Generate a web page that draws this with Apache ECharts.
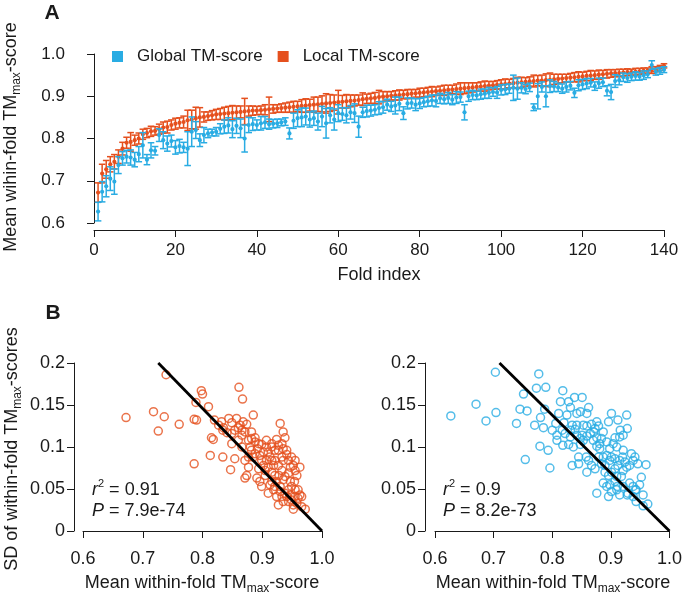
<!DOCTYPE html>
<html><head><meta charset="utf-8">
<script src="https://cdn.jsdelivr.net/npm/echarts@6/dist/echarts.min.js"></script>
<style>html,body{margin:0;padding:0;background:#fff}#c{width:685px;height:593px}</style>
</head><body><div id="c"></div>
<script>
// ---------- Panel A data (fold index 1..140) ----------
const foldIndex = Array.from({length:140}, (_, i) => i + 1);
const localMean = [
0.672,0.717,0.727,0.739,0.745,0.757,0.776,0.790,0.792,0.796,
0.800,0.810,0.813,0.817,0.818,0.822,0.826,0.827,0.832,0.835,
0.837,0.839,0.843,0.845,0.848,0.850,0.851,0.853,0.855,0.857,
0.858,0.859,0.860,0.861,0.862,0.863,0.864,0.865,0.866,0.866,
0.867,0.868,0.869,0.870,0.871,0.872,0.873,0.874,0.875,0.876,
0.877,0.878,0.879,0.880,0.881,0.882,0.883,0.884,0.885,0.886,
0.887,0.888,0.889,0.890,0.891,0.893,0.894,0.895,0.896,0.898,
0.899,0.900,0.901,0.902,0.903,0.904,0.905,0.906,0.907,0.908,
0.909,0.910,0.911,0.912,0.913,0.914,0.915,0.916,0.917,0.918,
0.919,0.920,0.921,0.922,0.923,0.924,0.925,0.926,0.927,0.928,
0.929,0.930,0.931,0.932,0.933,0.934,0.935,0.936,0.937,0.937,
0.938,0.939,0.940,0.941,0.942,0.943,0.944,0.945,0.946,0.947,
0.948,0.949,0.950,0.951,0.952,0.953,0.954,0.955,0.955,0.956,
0.957,0.957,0.958,0.959,0.960,0.961,0.962,0.964,0.967,0.972];
const localErr = [
.023,.022,.021,.018,.017,.016,.015,.013,.022,.012,
.013,.012,.011,.012,.010,.012,.013,.014,.012,.013,
.012,.014,.024,.022,.026,.023,.012,.010,.011,.012,
.013,.015,.016,.017,.015,.014,.031,.012,.011,.010,
.010,.012,.029,.010,.009,.010,.011,.012,.013,.012,
.015,.016,.014,.018,.017,.019,.023,.020,.018,.028,
.015,.016,.014,.013,.012,.015,.011,.012,.013,.016,
.012,.011,.010,.011,.012,.010,.011,.010,.009,.011,
.010,.011,.012,.010,.011,.012,.011,.010,.012,.014,
.013,.012,.011,.010,.011,.012,.010,.009,.010,.011,
.012,.010,.011,.013,.012,.010,.011,.014,.012,.013,
.015,.016,.012,.011,.010,.009,.010,.011,.012,.010,
.011,.012,.010,.011,.009,.010,.009,.008,.009,.008,
.008,.007,.008,.007,.007,.006,.008,.006,.006,.005];
const globalMean = [
0.627,0.674,0.687,0.705,0.698,0.737,0.753,0.757,0.755,0.750,
0.763,0.784,0.750,0.772,0.771,0.808,0.796,0.788,0.794,0.779,
0.782,0.779,0.776,0.816,0.820,0.796,0.808,0.812,0.814,0.816,
0.823,0.828,0.831,0.822,0.830,0.824,0.800,0.832,0.834,0.832,
0.836,0.838,0.834,0.835,0.836,0.838,0.840,0.812,0.842,0.848,
0.850,0.852,0.845,0.848,0.840,0.852,0.836,0.855,0.845,0.860,
0.858,0.855,0.862,0.860,0.828,0.862,0.865,0.866,0.868,0.872,
0.874,0.880,0.876,0.878,0.882,0.860,0.883,0.884,0.880,0.883,
0.886,0.888,0.890,0.889,0.895,0.893,0.896,0.892,0.897,0.898,
0.862,0.900,0.903,0.902,0.905,0.906,0.908,0.910,0.909,0.915,
0.916,0.918,0.920,0.918,0.920,0.917,0.921,0.874,0.900,0.922,
0.900,0.924,0.923,0.921,0.918,0.922,0.925,0.908,0.926,0.928,
0.930,0.932,0.924,0.931,0.933,0.913,0.910,0.936,0.938,0.945,
0.943,0.946,0.948,0.947,0.950,0.952,0.974,0.958,0.960,0.963];
const globalErr = [
.022,.024,.025,.028,.030,.020,.016,.015,.018,.017,
.018,.030,.012,.018,.010,.015,.020,.018,.014,.016,
.016,.012,.040,.035,.020,.015,.018,.010,.008,.010,
.012,.016,.018,.020,.018,.022,.032,.018,.015,.012,
.016,.014,.012,.010,.010,.008,.009,.013,.018,.020,
.022,.020,.018,.017,.020,.024,.035,.018,.025,.020,
.015,.018,.016,.022,.025,.012,.014,.013,.012,.015,
.014,.013,.012,.020,.016,.015,.013,.012,.014,.012,
.011,.012,.013,.014,.012,.011,.013,.012,.014,.012,
.018,.012,.011,.010,.012,.011,.013,.010,.014,.012,
.012,.011,.030,.025,.012,.011,.010,.008,.030,.012,
.025,.015,.012,.010,.011,.012,.010,.011,.013,.012,
.012,.010,.010,.012,.010,.012,.018,.015,.011,.010,
.010,.009,.010,.009,.010,.008,.010,.008,.008,.007];
const xTicksA = [0,20,40,60,80,100,120,140];
const yTicksA = [0.6,0.7,0.8,0.9,1.0];

// ---------- Panel B data: [mean, SD] per fold ----------
const localScatter = [
[0.672,0.135],[0.718,0.142],[0.736,0.136],[0.726,0.119],[0.761,0.127],[0.739,0.186],[0.798,0.167],[0.800,0.163],
[0.789,0.153],[0.810,0.148],[0.786,0.133],[0.790,0.132],[0.813,0.090],[0.786,0.080],[0.834,0.088],[0.847,0.073],
[0.861,0.171],[0.867,0.157],[0.815,0.111],[0.818,0.109],[0.820,0.132],[0.827,0.126],[0.834,0.120],[0.832,0.130],
[0.844,0.134],[0.849,0.129],[0.857,0.134],[0.860,0.123],[0.863,0.126],[0.868,0.130],[0.874,0.127],[0.885,0.138],
[0.854,0.120],[0.866,0.114],[0.871,0.118],[0.877,0.108],[0.882,0.110],[0.888,0.106],[0.894,0.104],[0.899,0.103],
[0.849,0.104],[0.854,0.086],[0.866,0.100],[0.871,0.084],[0.877,0.076],[0.874,0.066],[0.871,0.063],[0.882,0.096],
[0.888,0.092],[0.896,0.090],[0.899,0.084],[0.902,0.078],[0.907,0.100],[0.910,0.094],[0.913,0.088],[0.916,0.100],
[0.921,0.096],[0.924,0.109],[0.927,0.102],[0.930,0.128],[0.935,0.118],[0.938,0.111],[0.935,0.098],[0.933,0.088],
[0.935,0.084],[0.941,0.096],[0.905,0.072],[0.910,0.076],[0.916,0.070],[0.921,0.066],[0.924,0.059],[0.913,0.055],
[0.910,0.045],[0.919,0.049],[0.924,0.041],[0.927,0.031],[0.930,0.053],[0.935,0.061],[0.938,0.065],[0.944,0.069],
[0.947,0.076],[0.952,0.078],[0.955,0.072],[0.958,0.066],[0.954,0.059],[0.949,0.053],[0.944,0.049],[0.941,0.041],
[0.935,0.035],[0.938,0.045],[0.947,0.043],[0.949,0.037],[0.952,0.031],[0.955,0.041],[0.960,0.039],[0.963,0.043],
[0.966,0.041],[0.958,0.033],[0.952,0.026],[0.966,0.029],[0.972,0.026],[0.891,0.063],[0.894,0.074],[0.885,0.088],
[0.877,0.088],[0.896,0.059],[0.899,0.053],[0.905,0.066],[0.916,0.059],[0.921,0.053],[0.930,0.047],[0.933,0.041],
[0.944,0.035],[0.955,0.049],[0.963,0.076],[0.947,0.059],[0.960,0.049],[0.927,0.078],[0.921,0.084],[0.919,0.078],
[0.944,0.084],[0.955,0.084],[0.933,0.072],[0.902,0.094],[0.892,0.098],[0.880,0.100],[0.860,0.108],[0.866,0.120],
[0.841,0.117],[0.835,0.123],[0.849,0.116],[0.882,0.118],[0.888,0.111],[0.907,0.108],[0.916,0.104],[0.927,0.096],
[0.933,0.104],[0.941,0.091],[0.949,0.088],[0.928,0.066],[0.916,0.084],[0.907,0.084]];
const globalScatter = [
[0.627,0.137],[0.670,0.151],[0.687,0.131],[0.704,0.141],[0.703,0.189],[0.777,0.187],[0.751,0.163],[0.773,0.170],
[0.789,0.171],[0.745,0.145],[0.757,0.143],[0.739,0.128],[0.770,0.126],[0.785,0.123],[0.780,0.135],[0.787,0.145],
[0.779,0.101],[0.793,0.096],[0.754,0.085],[0.796,0.075],[0.818,0.167],[0.814,0.154],[0.828,0.154],[0.838,0.159],
[0.851,0.159],[0.831,0.147],[0.842,0.140],[0.848,0.142],[0.859,0.140],[0.862,0.147],[0.820,0.129],[0.825,0.138],
[0.834,0.126],[0.839,0.121],[0.853,0.126],[0.859,0.125],[0.867,0.127],[0.873,0.122],[0.879,0.125],[0.811,0.140],
[0.808,0.114],[0.817,0.120],[0.831,0.112],[0.842,0.114],[0.851,0.114],[0.859,0.113],[0.865,0.116],[0.871,0.118],
[0.876,0.111],[0.884,0.110],[0.893,0.106],[0.818,0.102],[0.828,0.103],[0.836,0.100],[0.848,0.103],[0.845,0.088],
[0.834,0.078],[0.845,0.080],[0.858,0.088],[0.862,0.084],[0.859,0.070],[0.867,0.078],[0.876,0.101],[0.881,0.098],
[0.887,0.088],[0.893,0.090],[0.898,0.084],[0.901,0.140],[0.896,0.130],[0.912,0.132],[0.916,0.120],[0.921,0.114],
[0.927,0.138],[0.928,0.122],[0.915,0.112],[0.907,0.111],[0.910,0.100],[0.921,0.096],[0.901,0.088],[0.907,0.086],
[0.915,0.084],[0.920,0.088],[0.924,0.082],[0.935,0.092],[0.941,0.088],[0.946,0.080],[0.960,0.079],[0.912,0.078],
[0.907,0.074],[0.901,0.070],[0.890,0.070],[0.896,0.066],[0.910,0.065],[0.918,0.065],[0.887,0.057],[0.893,0.053],
[0.898,0.055],[0.907,0.059],[0.911,0.053],[0.921,0.053],[0.932,0.057],[0.938,0.053],[0.943,0.049],[0.952,0.064],
[0.949,0.055],[0.955,0.043],[0.942,0.049],[0.929,0.045],[0.938,0.041],[0.943,0.035],[0.928,0.043],[0.915,0.043],
[0.910,0.049],[0.901,0.047],[0.896,0.041],[0.876,0.045],[0.921,0.072],[0.927,0.076],[0.932,0.078],[0.938,0.084],
[0.873,0.074],[0.879,0.088],[0.884,0.080],[0.890,0.078],[0.898,0.098],[0.904,0.104],[0.881,0.104],[0.870,0.108],
[0.853,0.108],[0.848,0.110],[0.876,0.130],[0.887,0.118],[0.842,0.126],[0.822,0.116],[0.806,0.128],[0.831,0.120],
[0.963,0.032],[0.955,0.030],[0.808,0.108],[0.800,0.120]];
const localFit = [[0.726,0.2],[1.0,0.0]];
const globalFit = [[0.710,0.2],[1.0,0.0]];
const xTicksB = [0.6,0.7,0.8,0.9,1.0];
const yTicksB = [0,0.05,0.1,0.15,0.2];

const BLUE = '#29ACE3', RED = '#E5501E', INK = '#1a1a1a';
const FONT = "'Liberation Sans', Arial, Helvetica, sans-serif";

const chart = echarts.init(document.getElementById('c'), null, {renderer:'canvas'});

function errData(mean, err){ return foldIndex.map((f,i)=>[f, mean[i], err[i]]); }
function errRender(color){
  return function(params, api){
    const x = api.value(0), m = api.value(1), e = api.value(2);
    const lo = api.coord([x, m - e]), hi = api.coord([x, m + e]), c = api.coord([x, m]);
    const st = {stroke: color, lineWidth: 1.5};
    return {type:'group', children:[
      {type:'line', shape:{x1:lo[0], y1:lo[1], x2:hi[0], y2:hi[1]}, style:st},
      {type:'line', shape:{x1:lo[0]-3.3, y1:lo[1], x2:lo[0]+3.3, y2:lo[1]}, style:st},
      {type:'line', shape:{x1:hi[0]-3.3, y1:hi[1], x2:hi[0]+3.3, y2:hi[1]}, style:st},
      {type:'circle', shape:{cx:c[0], cy:c[1], r:2.1}, style:{fill: color}}
    ]};
  };
}

const axisCommon = {
  axisLine:{show:true, lineStyle:{color:INK, width:1}},
  axisTick:{show:true, inside:false, length:7, lineStyle:{color:INK, width:1}},
  splitLine:{show:false},
  axisLabel:{color:INK, fontFamily:FONT, showMinLabel:true, showMaxLabel:true}
};
function mk(base, extra){ return echarts.util.merge(echarts.util.clone(base), extra, true); }

const subStyle = {fontSize:12, fontFamily:FONT, fill:INK, verticalAlign:'bottom', lineHeight:12};
const supStyle = {fontSize:11, fontFamily:FONT, fill:INK, verticalAlign:'top', lineHeight:11};
const nStyle = {fontSize:18, fontFamily:FONT, fill:INK, lineHeight:24, verticalAlign:'middle'};
const iStyle = {fontSize:18, fontFamily:FONT, fill:INK, lineHeight:24, verticalAlign:'middle', fontStyle:'italic'};

function txt(x, y, text, opts){
  opts = opts || {};
  return {type:'text', x:x, y:y, rotation: opts.rot || 0, silent:true,
    style:{text:text, align: opts.align || 'center', verticalAlign:'middle',
      fontSize: opts.size || 18, fontFamily: FONT, fontWeight: opts.weight || 'normal', fill: INK,
      rich:{n:nStyle, sub:subStyle, sup:supStyle, i:iStyle}}};
}

const option = {
  animation:false,
  backgroundColor:'#fff',
  grid:[
    {left:94, top:54, width:570, height:169},
    {left:83, top:363, width:239, height:168},
    {left:435, top:363, width:237, height:168}
  ],
  legend:{
    data:['Global TM-score','Local TM-score'],
    left:107, top:43, itemWidth:11, itemHeight:11, itemGap:15, icon:'rect',
    textStyle:{fontSize:17, fontFamily:FONT, color:INK, padding:[0,0,0,9]},
    selectedMode:false
  },
  xAxis:[
    mk(axisCommon, {type:'value', gridIndex:0, min:xTicksA[0], max:xTicksA[xTicksA.length-1], interval:20, offset:7,
      axisLabel:{fontSize:17, margin:12}}),
    mk(axisCommon, {type:'value', gridIndex:1, min:xTicksB[0], max:xTicksB[xTicksB.length-1], interval:0.1, offset:7,
      axisLabel:{fontSize:18, margin:12, formatter:v=>v.toFixed(1)}}),
    mk(axisCommon, {type:'value', gridIndex:2, min:xTicksB[0], max:xTicksB[xTicksB.length-1], interval:0.1, offset:7,
      axisLabel:{fontSize:18, margin:12, formatter:v=>v.toFixed(1)}})
  ],
  yAxis:[
    mk(axisCommon, {type:'value', gridIndex:0, min:yTicksA[0], max:yTicksA[yTicksA.length-1], interval:0.1, offset:19,
      axisLabel:{fontSize:17, margin:10, formatter:v=>v.toFixed(1)}}),
    mk(axisCommon, {type:'value', gridIndex:1, min:yTicksB[0], max:yTicksB[yTicksB.length-1], interval:0.05, offset:9,
      axisLabel:{fontSize:18, margin:9, formatter:v=>String(+v.toFixed(2))}}),
    mk(axisCommon, {type:'value', gridIndex:2, min:yTicksB[0], max:yTicksB[yTicksB.length-1], interval:0.05, offset:10,
      axisLabel:{fontSize:18, margin:9, formatter:v=>String(+v.toFixed(2))}})
  ],
  series:[
    {name:'Local TM-score', type:'custom', xAxisIndex:0, yAxisIndex:0, color:RED, itemStyle:{color:RED},
      renderItem: errRender(RED), data: errData(localMean, localErr), silent:true, z:2},
    {name:'Global TM-score', type:'custom', xAxisIndex:0, yAxisIndex:0, color:BLUE, itemStyle:{color:BLUE},
      renderItem: errRender(BLUE), data: errData(globalMean, globalErr), silent:true, z:3},
    {type:'scatter', xAxisIndex:1, yAxisIndex:1, data: localScatter, symbol:'circle', symbolSize:8, silent:true,
      itemStyle:{color:'rgba(255,255,255,0)', borderColor:RED, borderWidth:1.5}},
    {type:'scatter', xAxisIndex:2, yAxisIndex:2, data: globalScatter, symbol:'circle', symbolSize:8, silent:true,
      itemStyle:{color:'rgba(255,255,255,0)', borderColor:BLUE, borderWidth:1.5}},
    {type:'line', xAxisIndex:1, yAxisIndex:1, data: localFit, symbol:'none', silent:true, z:5,
      lineStyle:{color:'#000', width:2.8}},
    {type:'line', xAxisIndex:2, yAxisIndex:2, data: globalFit, symbol:'none', silent:true, z:5,
      lineStyle:{color:'#000', width:2.8}}
  ],
  graphic:[
    txt(52, 13, 'A', {size:21, weight:'bold'}),
    txt(53, 313, 'B', {size:21, weight:'bold'}),
    txt(11, 137, '{n|Mean wihin-fold TM}{sub|max}{n|-score}', {rot:Math.PI/2}),
    txt(379, 275, 'Fold index'),
    txt(12, 449, '{n|SD of within-fold TM}{sub|max}{n|-scores}', {rot:Math.PI/2}),
    txt(202, 583, '{n|Mean within-fold TM}{sub|max}{n|-score}'),
    txt(553, 583, '{n|Mean within-fold TM}{sub|max}{n|-score}'),
    txt(92, 490, '{i|r}{sup|2}{n| = 0.91}', {align:'left'}),
    txt(92, 511, '{i|P}{n| = 7.9e-74}', {align:'left'}),
    txt(443, 490, '{i|r}{sup|2}{n| = 0.9}', {align:'left'}),
    txt(443, 511, '{i|P}{n| = 8.2e-73}', {align:'left'})
  ]
};
chart.setOption(option);
</script></body></html>
